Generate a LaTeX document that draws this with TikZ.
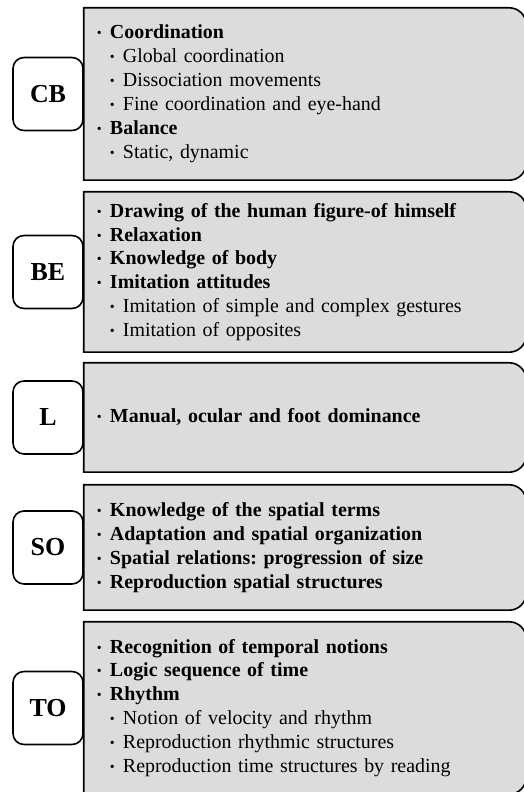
\documentclass[tikz,border=0pt]{standalone}
\usepackage{fontspec}
\setmainfont{Liberation Serif}
\usetikzlibrary{backgrounds}

\definecolor{panelgray}{RGB}{220,220,220}

\newcommand{\bul}{\raisebox{1bp}{\fontsize{14}{14}\selectfont\textbullet}}
\newcommand{\itemmain}[1]{\makebox[13bp][l]{\bul}\textbf{#1}}
\newcommand{\itemsub}[1]{\hspace*{13bp}\makebox[13bp][l]{\bul}#1}

\begin{document}
\begin{tikzpicture}[
    x=1bp, y=1bp,
    panel/.style={minimum width=442bp, minimum height=#1, text width=416bp, align=left, inner xsep=13bp, inner ysep=0pt, font=\fontsize{20}{24}\selectfont},
    tag/.style={draw, fill=white, line width=1.6bp, rounded corners=11bp, minimum width=70bp, minimum height=73bp, inner sep=0pt, anchor=east, font=\fontsize{26}{30}\selectfont\bfseries},
    outline/.style={draw=black, fill=panelgray, line width=1.6bp}
]

\useasboundingbox (0,0) rectangle (524,792);

% Panel CB
\node[panel=172bp] (cbbox) at (305,698) {
    \itemmain{Coordination}\\
    \itemsub{Global coordination}\\
    \itemsub{Dissociation movements}\\
    \itemsub{Fine coordination and eye-hand}\\
    \itemmain{Balance}\\
    \itemsub{Static, dynamic}
};

% Panel BE
\node[panel=160bp] (bebox) at (305,520) {
    \itemmain{Drawing of the human figure-of himself}\\
    \itemmain{Relaxation}\\
    \itemmain{Knowledge of body}\\
    \itemmain{Imitation attitudes}\\
    \itemsub{Imitation of simple and complex gestures}\\
    \itemsub{Imitation of opposites}
};

% Panel L
\node[panel=109bp] (lbox) at (305,374.5) {
    \itemmain{Manual, ocular and foot dominance}
};

% Panel SO
\node[panel=125bp] (sobox) at (305,244.5) {
    \itemmain{Knowledge of the spatial terms}\\
    \itemmain{Adaptation and spatial organization}\\
    \itemmain{Spatial relations:\ progression of size}\\
    \itemmain{Reproduction spatial structures}
};

% Panel TO
\node[panel=172bp] (tobox) at (305,84) {
    \itemmain{Recognition of temporal notions}\\
    \itemmain{Logic sequence of time}\\
    \itemmain{Rhythm}\\
    \itemsub{Notion of velocity and rhythm}\\
    \itemsub{Reproduction rhythmic structures}\\
    \itemsub{Reproduction time structures by reading}
};

% Panel outlines: square on the left, rounded on the right
\begin{scope}[on background layer]
\foreach \p in {cbbox, bebox, lbox, sobox, tobox}
    \draw[outline] (\p.north west) -- ([xshift=-17bp]\p.north east)
        arc[start angle=90, end angle=0, radius=17bp]
        -- ([yshift=17bp]\p.south east)
        arc[start angle=0, end angle=-90, radius=17bp]
        -- (\p.south west) -- cycle;
\end{scope}

% Tags
\node[tag] (cb) at (cbbox.west) {CB};
\node[tag] (be) at (bebox.west) {BE};
\node[tag] (l) at (lbox.west) {L};
\node[tag] (so) at (sobox.west) {SO};
\node[tag] (to) at (tobox.west) {TO};

\end{tikzpicture}
\end{document}
